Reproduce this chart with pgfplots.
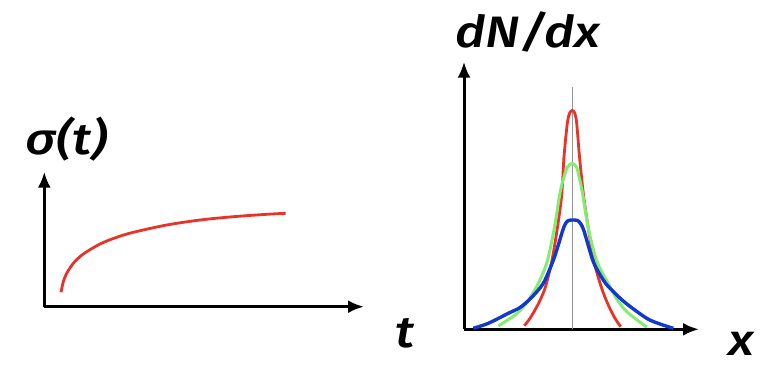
\documentclass[border=0pt]{standalone}
\usepackage{pgfplots}
\pgfplotsset{compat=1.18}
\usepackage{fontspec}
\setmainfont{Fira Sans}[ItalicFont={* Medium Italic}]
\usetikzlibrary{arrows.meta}
\definecolor{cred}{RGB}{232,52,40}
\definecolor{cgreen}{RGB}{132,236,112}
\definecolor{cblue}{RGB}{18,56,204}
\definecolor{cgray}{RGB}{150,150,150}
\newcommand{\lab}{\itshape\fontsize{44}{44}\selectfont}
\newcommand{\sx}[1]{\scalebox{1.18}[1]{#1}}
\begin{document}
\begin{tikzpicture}
\useasboundingbox (0,0) rectangle (760pt,368pt);
\begin{axis}[
  x=1pt, y=1pt,
  xmin=44.3, xmax=364, ymin=61.3, ymax=196.3,
  anchor=south west, at={(44.3pt,61.3pt)},
  axis lines=left, ticks=none, clip=false,
  axis line style={line width=3pt},
  x axis line style={-{Latex[length=16pt,width=13pt]}},
  y axis line style={-{Latex[length=16pt,width=13pt]}},
]
\addplot[cred, line width=2.8pt, smooth] coordinates {
(61,75.7) (63.3,86.3) (66.7,94.7) (73.3,104.7) (83.3,114) (100,124)
(116.7,130.7) (133.3,135.7) (166.7,143) (200,148) (233.3,151.3)
(266.7,153.7) (285.7,154.7)};
\node[font=\lab] at (axis cs:67,229) {\sx{σ(t)}};
\node[font=\lab] at (axis cs:405,35) {\sx{t}};
\end{axis}
\begin{axis}[
  x=1pt, y=1pt,
  xmin=464, xmax=699, ymin=38.7, ymax=306.3,
  anchor=south west, at={(464pt,38.7pt)},
  axis lines=left, ticks=none, clip=false,
  axis line style={line width=3pt},
  x axis line style={-{Latex[length=16pt,width=13pt]}},
  y axis line style={-{Latex[length=16pt,width=13pt]}},
]
\addplot[cgray, line width=0.9pt] coordinates {(572,38.7) (572,281.3)};
\addplot[cred, line width=2.8pt, smooth] coordinates {
(524.3,42.3) (530,49.7) (537.7,63) (545,79.7) (551.7,106.3) (557.3,139.7)
(561.7,173) (564,211.3) (567.3,244.7) (569.7,255) (572.3,257.5) (574.7,255)
(576.7,244.7) (579.5,211.3) (583.5,173) (588.3,139.7) (594,106.3)
(601.7,79.7) (608.3,63) (615,49.7) (620.7,41.3)};
\addplot[cgreen, line width=3pt, smooth] coordinates {
(498.3,42) (515,53) (525,63) (537,82) (547,106) (554.3,139.7) (560,175)
(564,191.3) (567.5,201) (572,204.5) (576.5,201) (579,191.3) (582.5,175)
(588.3,139.7) (597,106.3) (610,81.3) (618,67) (628.3,55) (646.7,41)};
\addplot[cblue, line width=3.4pt, smooth] coordinates {
(473.3,39.7) (488.3,44.7) (508.3,54.7) (520,60.5) (531,70) (543.3,84.7)
(553,107) (558.3,123) (562.5,137) (565.5,144.5) (568.5,147.5) (573,148)
(577.5,147.5) (580.5,144.5) (584,137) (593.3,106.3) (603.3,88) (610,79.7)
(625,65.5) (646.7,49.7) (660,44) (673.3,39.7)};
\node[font=\lab] at (axis cs:528,336) {\sx{dN/dx}};
\node[font=\lab] at (axis cs:741,24) {\sx{x}};
\end{axis}
\end{tikzpicture}
\end{document}
